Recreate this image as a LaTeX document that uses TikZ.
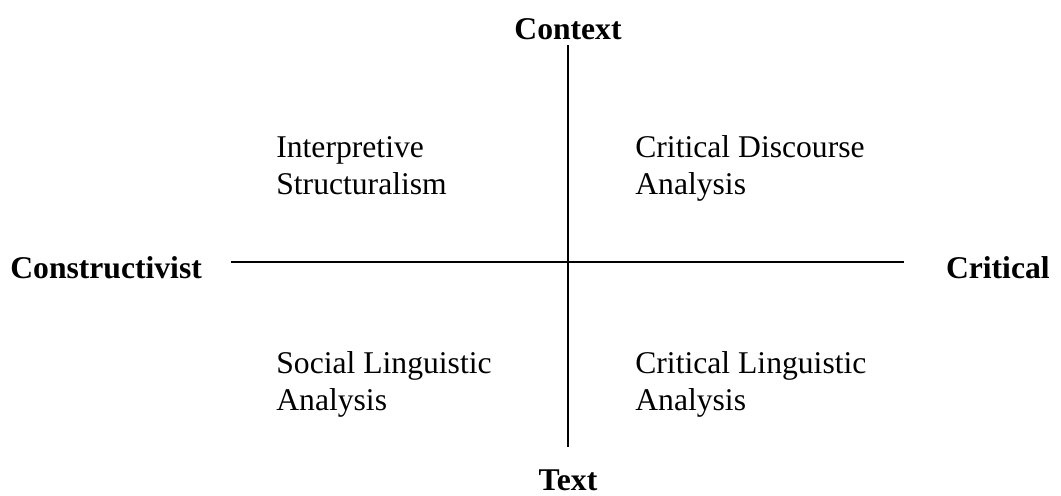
\documentclass[tikz,border=0pt]{standalone}
\usepackage{fontspec}
\setmainfont{Liberation Serif}
\usetikzlibrary{positioning}

\begin{document}
\begin{tikzpicture}[font=\fontsize{18}{21}\selectfont]
\tikzset{axislabel/.style={font=\fontsize{18}{21}\selectfont\bfseries,inner sep=0pt},
  quad/.style={align=left,anchor=west,inner sep=0pt},
  axis/.style={line width=1pt,black}}
\useasboundingbox (0,0) rectangle (21.22,9.9);

% axis end points
\coordinate (top) at (11.36,9.0);
\coordinate (bottom) at (11.36,0.96);
\coordinate (left) at (4.62,4.66);
\coordinate (right) at (18.08,4.66);
\draw[axis] (top)--(bottom);
\draw[axis] (left)--(right);

\node[axislabel] (context) at (11.36,9.32) {Context};
\node[axislabel] (text) at (11.36,0.30) {Text};
\node[axislabel,anchor=west] (constructivist) at (0.2,4.54) {Constructivist};
\node[axislabel,anchor=east] (critical) at (21.0,4.54) {Critical};

\node[quad] (interp) at (5.52,6.52) {\strut Interpretive\\Structuralism\strut};
\node[quad] (cda) at (12.7,6.52) {\strut Critical Discourse\\Analysis\strut};
\node[quad] (social) at (5.52,2.2) {\strut Social Linguistic\\Analysis\strut};
\node[quad] (cla) at (12.7,2.2) {\strut Critical Linguistic\\Analysis\strut};
\end{tikzpicture}
\end{document}
